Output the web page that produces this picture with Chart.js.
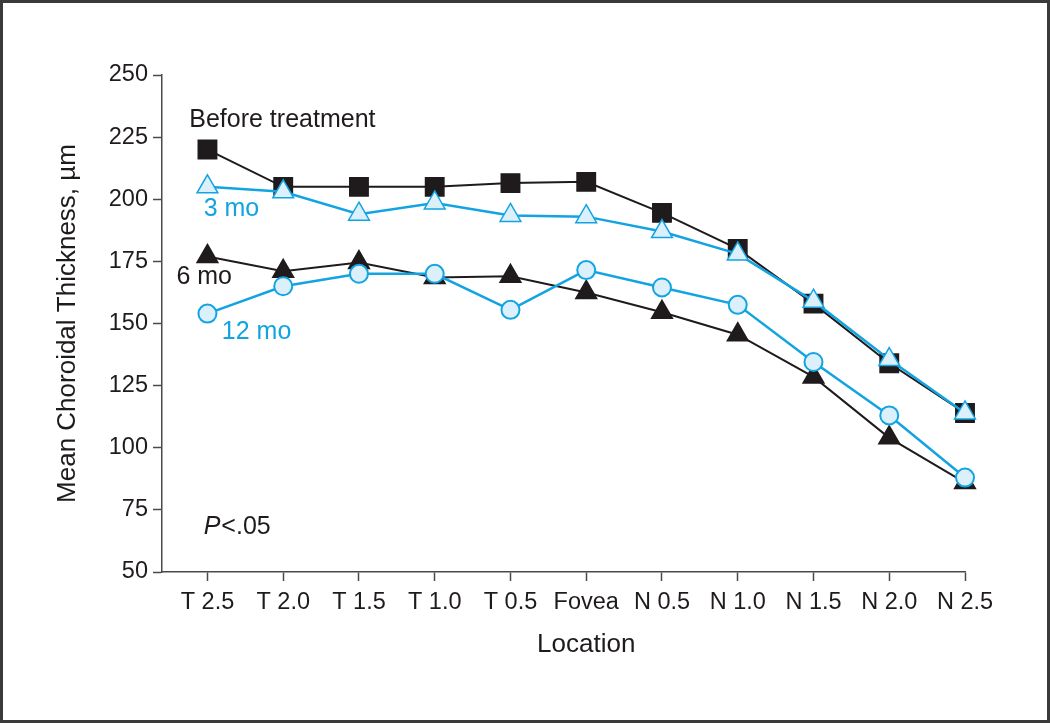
<!DOCTYPE html>
<html>
<head>
<meta charset="utf-8">
<script src="https://cdn.jsdelivr.net/npm/chart.js@4.4.0/dist/chart.umd.min.js"></script>
<style>
  html, body { margin: 0; padding: 0; background: #fff; }
  #wrap { width: 1050px; height: 723px; }
</style>
</head>
<body>
<div id="wrap"><canvas id="chart" width="1050" height="723"></canvas></div>
<script>
// Location along the scan (temporal -> fovea -> nasal)
const locations = ['T 2.5', 'T 2.0', 'T 1.5', 'T 1.0', 'T 0.5', 'Fovea', 'N 0.5', 'N 1.0', 'N 1.5', 'N 2.0', 'N 2.5'];

// Mean choroidal thickness, µm
const beforeTreatment = [220, 205, 205, 205, 206.5, 207, 194.5, 180, 158, 134, 114];
const month3 = [205, 203, 194, 198.5, 193.5, 193, 187, 178, 159, 135.5, 114];
const month6 = [177, 171, 174.5, 168.5, 169, 162.5, 154.5, 145.5, 128.5, 104, 86];
const month12 = [154, 165, 170, 170, 155.5, 171.5, 164.5, 157.5, 134.5, 113, 88];

const yMin = 50;
const yMax = 250;
const yStep = 25;

// series labels written next to the lines: text, location index, thickness
const noteTexts = ['Before treatment', '3 mo', '6 mo', '12 mo'];
const noteX = [-0.24, -0.05, -0.41, 0.19];
const noteY = [232, 196, 168.5, 146.5];

const FONT = "'Liberation Sans', Arial, sans-serif";
const BLACK = '#1f1b1c';
const BLUE = '#12a4e2';
const PALE = '#dcf0fb';
const AXIS = '#4a4a4a';
const noteColors = [BLACK, BLUE, BLACK, BLUE];

const toPoints = values => values.map((v, i) => ({ x: i, y: v }));

const decorations = {
    id: 'decorations',
    beforeDraw(chart) {
        const ctx = chart.ctx;
        ctx.save();
        ctx.fillStyle = '#fff';
        ctx.fillRect(0, 0, chart.width, chart.height);
        ctx.restore();
    },
    afterDraw(chart) {
        const { ctx, chartArea, scales: { x, y } } = chart;
        ctx.save();
        ctx.textBaseline = 'middle';
        ctx.textAlign = 'left';

        // series labels
        ctx.font = `25px ${FONT}`;
        noteTexts.forEach((text, i) => {
            ctx.fillStyle = noteColors[i];
            ctx.fillText(text, x.getPixelForValue(noteX[i]), y.getPixelForValue(noteY[i]));
        });

        // significance note, italic P
        const px = x.getPixelForValue(-0.05);
        const py = y.getPixelForValue(68);
        ctx.fillStyle = BLACK;
        ctx.font = `italic 25px ${FONT}`;
        ctx.fillText('P', px, py);
        const pw = ctx.measureText('P').width;
        ctx.font = `25px ${FONT}`;
        ctx.fillText('<.05', px + pw + 1, py);

        // x axis title, centred on the locations
        ctx.textAlign = 'center';
        ctx.font = `26px ${FONT}`;
        ctx.fillText('Location', x.getPixelForValue((locations.length - 1) / 2), chartArea.bottom + 72.5);

        // frame
        ctx.strokeStyle = '#3a3a3a';
        ctx.lineWidth = 3;
        ctx.strokeRect(1.5, 1.5, chart.width - 3, chart.height - 3);
        ctx.restore();
    }
};

function series(label, values, color, style, radius, fill, order, lineWidth) {
    return {
        label: label,
        data: toPoints(values),
        borderColor: color,
        borderWidth: lineWidth,
        pointStyle: style,
        pointRadius: radius,
        pointHoverRadius: radius,
        pointBackgroundColor: fill,
        pointBorderColor: color,
        pointBorderWidth: style === 'circle' ? 2 : 1.5,
        tension: 0,
        clip: false,
        order: order
    };
}

new Chart(document.getElementById('chart'), {
    type: 'line',
    data: {
        datasets: [
            series('Before treatment', beforeTreatment, BLACK, 'rect', 13, BLACK, 4, 2),
            series('6 mo', month6, BLACK, 'triangle', 12, BLACK, 3, 2),
            series('3 mo', month3, BLUE, 'triangle', 12, PALE, 2, 2.5),
            series('12 mo', month12, BLUE, 'circle', 9, PALE, 1, 2.5)
        ]
    },
    options: {
        responsive: false,
        animation: false,
        layout: { padding: { left: 0, top: 75, right: 85, bottom: 0 } },
        plugins: {
            legend: { display: false },
            tooltip: { enabled: false }
        },
        scales: {
            x: {
                type: 'linear',
                min: -0.6,
                max: locations.length - 1,
                afterBuildTicks: scale => {
                    scale.ticks = locations.map((_, i) => ({ value: i }));
                },
                afterFit: scale => { scale.height = 151; },
                ticks: {
                    callback: value => locations[value],
                    autoSkip: false,
                    maxRotation: 0,
                    padding: 7,
                    color: BLACK,
                    font: { family: FONT, size: 23.5 }
                },
                grid: { drawOnChartArea: false, tickLength: 9, tickColor: AXIS, tickWidth: 1.5 },
                border: { color: AXIS, width: 1.5 }
            },
            y: {
                min: yMin,
                max: yMax,
                afterFit: scale => { scale.width = 162; },
                ticks: {
                    stepSize: yStep,
                    padding: 5,
                    color: BLACK,
                    font: { family: FONT, size: 23.5 }
                },
                grid: { drawOnChartArea: false, tickLength: 9, tickColor: AXIS, tickWidth: 1.5 },
                border: { color: AXIS, width: 1.5 },
                title: {
                    display: true,
                    text: 'Mean Choroidal Thickness, µm',
                    color: BLACK,
                    font: { family: FONT, size: 26 },
                    padding: { top: 52, bottom: 0 }
                }
            }
        }
    },
    plugins: [decorations]
});
</script>
</body>
</html>
